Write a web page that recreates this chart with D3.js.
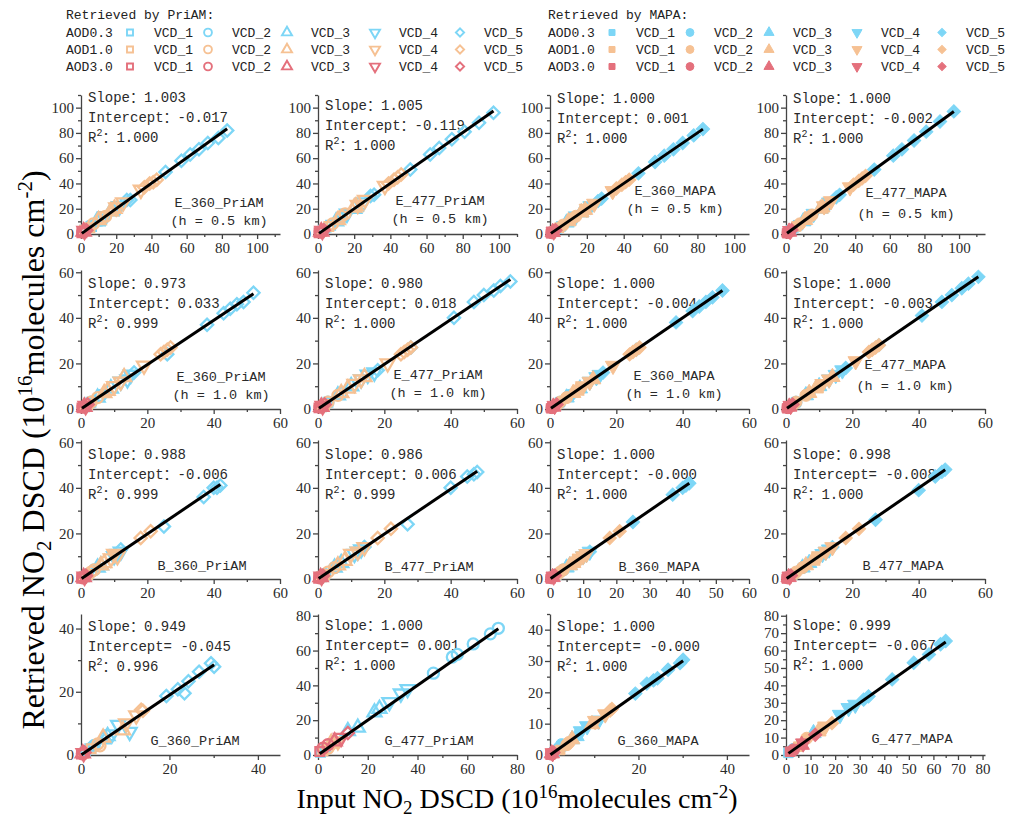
<!DOCTYPE html>
<html>
<head>
<meta charset="utf-8">
<script src="https://cdn.jsdelivr.net/npm/d3@7"></script>
<style>
  body { margin: 0; background: #fff; }
</style>
</head>
<body>
<div id="wrapper"></div>
<script>
// ---- data ----
const aodLabels = ["AOD0.3", "AOD1.0", "AOD3.0"];
const vcdLabels = ["VCD_1", "VCD_2", "VCD_3", "VCD_4", "VCD_5"];
const aodColors = ["#7dd6f6", "#f6c193", "#e4707c"];
const methodTitles = ["Retrieved by PriAM:", "Retrieved by MAPA:"];

// input DSCD: [aod, vcd, input]
const inE360h05 = [
  [0,0,2],[0,0,6],[0,1,5],[0,1,11],[0,2,9],[0,2,17],[0,3,14],[0,3,22],[0,4,26],[0,4,28],[0,4,48],[0,4,57],[0,4,62],[0,4,67],[0,4,72],[0,4,78],[0,4,83],
  [1,0,2],[1,0,5],[1,1,7],[1,1,12],[1,1,14],[1,2,10],[1,2,17],[1,2,19],[1,3,20],[1,3,24],[1,3,34],[1,4,36],[1,4,39],[1,4,41],[1,4,43],
  [2,0,0.5],[2,1,1],[2,2,1.5],[2,3,2],[2,4,3]
];
const priE360h05 = [3,6,6,11,10,18,14,22,27,27,49,58,63,67,72,76,82, 3,5,8,13,14,11,18,20,21,25,35,37,40,41,43, 1,1.5,2,2.5,3];
const mapaE360h05 = [2,6,5,11,9,17,14,22,26,28,48,57,62,67,72,78,83, 2,5,7,12,14,10,17,19,20,24,34,36,39,41,43, 0.5,1,1.5,2,3];

const inE477h05 = [
  [0,0,3],[0,0,7],[0,1,6],[0,1,13],[0,2,10],[0,2,20],[0,3,16],[0,3,25],[0,4,29],[0,4,31],[0,4,51],[0,4,62],[0,4,67],[0,4,74],[0,4,81],[0,4,89],[0,4,97],
  [1,0,2],[1,0,6],[1,1,8],[1,1,13],[1,1,15],[1,2,11],[1,2,20],[1,2,21],[1,3,22],[1,3,26],[1,3,37],[1,4,39],[1,4,42],[1,4,44],[1,4,46],
  [2,0,0.6],[2,1,1.2],[2,2,1.8],[2,3,2.4],[2,4,3.2]
];
const priE477h05 = [3,7,6,13,10,20,16,25,30,31,51,63,68,75,81,88,96, 2,6,8,14,16,11,21,22,23,27,38,40,43,45,47, 1,1.5,2,2.5,3];
const mapaE477h05 = [3,7,6,13,10,20,16,25,29,31,51,62,67,74,81,89,97, 2,6,8,13,15,11,20,21,22,26,37,39,42,44,46, 0.6,1.2,1.8,2.4,3.2];

const inE360h10 = [
  [0,0,1],[0,0,3],[0,1,3],[0,1,6],[0,2,5],[0,2,9],[0,3,12],[0,3,14],[0,3,15],[0,4,16],[0,4,26],[0,4,38],[0,4,43],[0,4,45],[0,4,47],[0,4,49],[0,4,52],
  [1,0,1],[1,0,2],[1,1,3],[1,1,5],[1,2,7],[1,2,8],[1,2,13],[1,3,10],[1,3,12],[1,3,19],[1,4,24],[1,4,25],[1,4,26],[1,4,27],
  [2,0,0.3],[2,1,0.6],[2,2,1],[2,3,1.4],[2,4,2]
];
const priE360h10 = [1,3,3,6,5,9,12,13,15,16,24,37,42,44,46,47,51, 1,2,3,5,7,8,14,10,12,19,24,25,26,27, 0.5,0.8,1,1.3,2];
const mapaE360h10 = [1,3,3,6,5,9,12,14,15,16,26,38,43,45,47,49,52, 1,2,3,5,7,8,13,10,12,19,24,25,26,27, 0.3,0.6,1,1.4,2];

const inE477h10 = [
  [0,0,1],[0,0,3],[0,1,3],[0,1,7],[0,2,6],[0,2,10],[0,3,13],[0,3,15],[0,3,17],[0,4,18],[0,4,28],[0,4,41],[0,4,47],[0,4,50],[0,4,53],[0,4,55],[0,4,58],
  [1,0,1],[1,0,2],[1,1,3],[1,1,6],[1,2,7],[1,2,9],[1,2,14],[1,3,11],[1,3,13],[1,3,21],[1,4,25],[1,4,26],[1,4,27],[1,4,28],
  [2,0,0.3],[2,1,0.6],[2,2,1],[2,3,1.4],[2,4,2]
];
const priE477h10 = [1,3,3,7,6,10,13,15,16,17,27,40,47,50,52,54,56, 1,2,3,6,7,9,14,11,13,20,24,25,26,27, 0.5,0.8,1,1.3,2];
const mapaE477h10 = [1,3,3,7,6,10,13,15,17,18,28,41,47,50,53,55,58, 1,2,3,6,7,9,14,11,13,21,25,26,27,28, 0.3,0.6,1,1.4,2];

const inB360 = [
  [0,0,1],[0,0,2],[0,1,2],[0,1,4],[0,2,5],[0,2,6],[0,3,10],[0,3,11],[0,3,12],[0,4,12],[0,4,25],[0,4,37],[0,4,40],[0,4,41],[0,4,42],
  [1,0,1],[1,0,2],[1,1,3],[1,1,4],[1,2,6],[1,2,7],[1,3,9],[1,3,10],[1,3,11],[1,4,18],[1,4,21],
  [2,0,0.2],[2,1,0.5],[2,2,0.8],[2,3,1.1],[2,4,1.5]
];
const priB360 = [1,2,2,4,5,6,10,11,12,13,23,36,40,40,41, 1,2,3,4,6,7,9,11,10,18,21, 0.3,0.5,0.8,1,1.4];
const mapaB360 = [1,2,2,4,5,6,10,11,12,12,25,37,40,41,42, 1,2,3,4,6,7,9,10,11,18,21, 0.2,0.5,0.8,1.1,1.5];

const inB477 = [
  [0,0,1],[0,0,2],[0,1,2],[0,1,5],[0,2,5],[0,2,7],[0,3,11],[0,3,12],[0,3,13],[0,4,14],[0,4,27],[0,4,40],[0,4,45],[0,4,47],[0,4,48],
  [1,0,1],[1,0,2],[1,1,3],[1,1,5],[1,2,6],[1,2,8],[1,3,10],[1,3,12],[1,3,14],[1,4,18],[1,4,22],
  [2,0,0.2],[2,1,0.5],[2,2,0.8],[2,3,1.1],[2,4,1.5]
];
const priB477 = [1,2,2,5,5,7,11,12,13,14,24,40,45,46,47, 1,2,3,5,6,8,11,12,14,18,22, 0.3,0.5,0.8,1,1.4];
const mapaB477 = [1,2,2,5,5,7,11,12,13,14,26,39,45,47,48, 1,2,3,5,6,8,10,12,14,18,22, 0.2,0.5,0.8,1.1,1.5];

const inG360 = [
  [0,0,1],[0,0,2],[0,1,2.6],[0,1,3],[0,2,5],[0,2,6],[0,3,7],[0,3,8.4],[0,3,11],[0,4,19.3],[0,4,21.9],[0,4,23.4],[0,4,24.3],[0,4,26.7],[0,4,29.4],[0,4,30.1],
  [1,0,0.5],[1,0,2.3],[1,1,3.8],[1,1,4.3],[1,2,5],[1,2,9.5],[1,3,10.2],[1,3,12.5],[1,4,13.6],[1,4,14],
  [2,0,0.1],[2,1,0.3],[2,2,0.4],[2,3,0.6],[2,4,0.8]
];
const priG360 = [1,2,2.5,3,5,6,6.5,9.5,7.3,18.7,20.8,19.5,23.3,26.3,29,27.9, 0.5,2,3.5,2.9,5.5,7.8,10,12.5,14.3,14, 0.3,0.4,0.5,0.6,0.8];
const mapaG360 = [1,2,3.3,3,5,6,7.6,9.2,11,19.6,22.8,23.8,24.5,27.2,29.3,30.4, 0.5,1.6,3.3,4,5,9.8,10.9,13,14.2,14.7, 0.1,0.3,0.5,0.6,0.8];

const inG477Pri = [
  [0,0,1],[0,0,3],[0,2,12],[0,2,16],[0,2,22.7],[0,2,24.7],[0,3,28.7],[0,3,33.3],[0,3,36],[0,1,46.4],[0,1,54],[0,1,56],[0,1,62.4],[0,1,69.3],[0,1,72.5],
  [1,0,2],[1,1,4],[1,2,5.3],[1,3,8],[1,4,6],
  [2,0,0.7],[2,1,2],[2,1,4],[2,2,6.7],[2,3,9.3],[2,4,12]
];
const priG477 = [1.5,3.5,13.7,15.7,24.5,26.5,30.4,35.3,37.8,47,56.3,57.8,63.8,69.6,72.8, 2.5,3.9,6.9,7.8,6.5, 2,3.9,5.9,7.8,9.8,12.7];

const inG477Mapa = [
  [0,0,1],[0,1,3],[0,2,11.2],[0,3,22],[0,3,25.5],[0,3,28.2],[0,4,31.6],[0,4,33.6],[0,4,43.2],[0,4,52],[0,4,58.2],[0,4,62.9],[0,4,65],
  [1,0,5],[1,1,8.4],[1,2,13.2],[1,3,16],[1,4,18.7],
  [2,0,1.6],[2,1,3],[2,2,6.4],[2,3,7],[2,4,11.9]
];
const mapaG477 = [1.2,3.2,12.5,23.1,27,28.9,31.8,33.7,43.4,53,57.8,63.6,65.5, 4.8,9.6,13.5,16.4,18.3, 1.9,2.9,5.8,6.7,11.6];

// panel texts and fits (row by row)
const panelNames = ["E_360_PriAM","E_477_PriAM","E_360_MAPA","E_477_MAPA",
                    "E_360_PriAM","E_477_PriAM","E_360_MAPA","E_477_MAPA",
                    "B_360_PriAM","B_477_PriAM","B_360_MAPA","B_477_MAPA",
                    "G_360_PriAM","G_477_PriAM","G_360_MAPA","G_477_MAPA"];
const panelHeights = ["(h = 0.5 km)","(h = 0.5 km)","(h = 0.5 km)","(h = 0.5 km)",
                      "(h = 1.0 km)","(h = 1.0 km)","(h = 1.0 km)","(h = 1.0 km)",
                      "","","","","","","",""];
const slopes = ["1.003","1.005","1.000","1.000","0.973","0.980","1.000","1.000",
                "0.988","0.986","1.000","0.998","0.949","1.000","1.000","0.999"];
const intercepts = ["-0.017","-0.119","0.001","-0.002","0.033","0.018","-0.004","-0.003",
                    "-0.006","0.006","-0.000","-0.008","-0.045","0.001","-0.000","-0.067"];
const r2s = ["1.000","1.000","1.000","1.000","0.999","1.000","1.000","1.000",
             "0.999","0.999","1.000","1.000","0.996","1.000","1.000","1.000"];
const interceptSep = ["：","：","：","：","：","：","：","：","：","：","：","= ","= ","= ","= ","= "];
const panelInputs = [inE360h05, inE477h05, inE360h05, inE477h05,
                     inE360h10, inE477h10, inE360h10, inE477h10,
                     inB360, inB477, inB360, inB477,
                     inG360, inG477Pri, inG360, inG477Mapa];
const panelOutputs = [priE360h05, priE477h05, mapaE360h05, mapaE477h05,
                      priE360h10, priE477h10, mapaE360h10, mapaE477h10,
                      priB360, priB477, mapaB360, mapaB477,
                      priG360, priG477, mapaG360, mapaG477];
const xMax = [113,110,108,115, 60,60,60,60, 60,60,60,60, 45,80,45,81];
const yMax = [110,110,110,110, 61,61,61,61, 61,61,61,61, 44.6,81,45,81];
const xStep = [20,20,20,20, 20,20,20,20, 20,20,10,20, 20,20,20,10];
const yStep = [20,20,20,20, 20,20,20,20, 20,20,20,20, 20,20,10,10];

// ---- layout ----
const width = 1009, height = 820;
const colLeft = [81, 318, 550, 786];
const rowTop = [95, 270, 440, 614];
const rowBottom = [234, 409, 579, 755];
const plotW = 199;
const statsDy = [[7,15,8,8],[18,18,18,18],[19,19,19,19],[17,16,17,16]];
const labelPos = [[138,-27],[122,-29],[125,-39],[120,-37],
                  [140,-28],[120,-30],[124,-29],[119,-40],
                  [121,-9],[111,-8],[109,-8],[117,-9],
                  [114,-10],[111,-10],[108,-10],[126,-12]];

const monoFont = "'Liberation Mono', 'Noto Sans CJK SC', monospace";
const serifFont = "'Liberation Serif', 'Times New Roman', serif";
const axisColor = "#444";
const textColor = "#2a2a2a";

const shapes = [d3.symbolSquare, d3.symbolCircle, d3.symbolTriangle, d3.symbolTriangle, d3.symbolSquare];
const shapeRot = [0, 0, 0, 180, 45];
const plotSizes = [75, 95, 85, 85, 75];
const legendSizes = [36, 48, 44, 44, 34];

const svg = d3.select("#wrapper")
  .append("svg")
    .attr("width", width)
    .attr("height", height)
    .style("background", "#fff");

function drawMarker(g, vcd, color, filled, size, sw) {
  return g.append("path")
    .attr("d", d3.symbol().type(shapes[vcd]).size(size)())
    .attr("fill", filled ? color : "none")
    .attr("stroke", color)
    .attr("stroke-width", filled ? 1 : sw);
}

// ---- legends ----
const legendX = [66, 548];
const legendMarkX = [64, 142, 221, 309, 394];
const legendRowY = [37, 54, 71];

methodTitles.forEach((title, m) => {
  const lg = svg.append("g")
    .attr("transform", `translate(${legendX[m]},0)`)
    .style("font-family", monoFont)
    .style("font-size", "13px")
    .attr("fill", "#222");
  lg.append("text").attr("x", 0).attr("y", 19).text(title);
  aodLabels.forEach((aod, a) => {
    lg.append("text").attr("x", 0).attr("y", legendRowY[a]).text(aod);
    vcdLabels.forEach((vcd, v) => {
      const mk = lg.append("g")
        .attr("transform", `translate(${legendMarkX[v]},${legendRowY[a] - 4.5}) rotate(${shapeRot[v]})`);
      drawMarker(mk, v, aodColors[a], m === 1, legendSizes[v], 1.9);
      lg.append("text").attr("x", legendMarkX[v] + 24).attr("y", legendRowY[a]).text(vcd);
    });
  });
});

// ---- panels ----
panelNames.forEach((name, i) => {
  const r = Math.floor(i / 4), c = i % 4;
  const x0 = colLeft[c], y0 = rowTop[r], y1 = rowBottom[r];
  const filled = name.includes("MAPA");

  const xScale = d3.scaleLinear().domain([0, xMax[i]]).range([0, plotW]);
  const yScale = d3.scaleLinear().domain([0, yMax[i]]).range([y1 - y0, 0]);

  const g = svg.append("g").attr("transform", `translate(${x0},${y0})`);

  // axes
  const xMajor = d3.range(0, xMax[i] + 0.01, xStep[i]);
  const xMinor = d3.range(xStep[i] / 2, xMax[i] + 0.01, xStep[i]);
  const yMajor = d3.range(0, yMax[i] + 0.01, yStep[i]);
  const yMinor = d3.range(yStep[i] / 2, yMax[i] + 0.01, yStep[i]);

  g.append("g")
    .attr("transform", `translate(0,${y1 - y0})`)
    .call(d3.axisBottom(xScale).tickValues(xMajor).tickSize(5).tickSizeOuter(0).tickPadding(3));
  g.append("g")
    .attr("transform", `translate(0,${y1 - y0})`)
    .call(d3.axisBottom(xScale).tickValues(xMinor).tickSize(3).tickSizeOuter(0).tickFormat(""))
    .call(a => a.select(".domain").remove());
  g.append("g")
    .call(d3.axisLeft(yScale).tickValues(yMajor).tickSize(5).tickSizeOuter(0).tickPadding(2));
  g.append("g")
    .call(d3.axisLeft(yScale).tickValues(yMinor).tickSize(3).tickSizeOuter(0).tickFormat(""))
    .call(a => a.select(".domain").remove());

  g.selectAll(".domain, .tick line").attr("stroke", axisColor).attr("stroke-width", 1.3);
  g.selectAll(".tick text")
    .attr("fill", textColor)
    .style("font-family", serifFont)
    .style("font-size", "15px");

  // stats text
  const st = g.append("g")
    .style("font-family", monoFont)
    .style("font-size", "14px")
    .attr("fill", textColor);
  const sy = statsDy[r][c];
  st.append("text").attr("x", 7).attr("y", sy).text("Slope：" + slopes[i]);
  st.append("text").attr("x", 7).attr("y", sy + 20).text("Intercept" + interceptSep[i] + intercepts[i]);
  const rt = st.append("text").attr("x", 7).attr("y", sy + 40);
  rt.append("tspan").text("R");
  rt.append("tspan").attr("dy", -6).style("font-size", "10px").text("2");
  rt.append("tspan").attr("dy", 6).text("：" + r2s[i]);

  // panel label
  const lb = g.append("g")
    .style("font-family", monoFont)
    .style("font-size", "13.5px")
    .attr("fill", textColor)
    .attr("text-anchor", "middle");
  const lp = labelPos[i];
  lb.append("text").attr("x", lp[0]).attr("y", y1 - y0 + lp[1]).text(name);
  if (panelHeights[i]) {
    lb.append("text").attr("x", lp[0]).attr("y", y1 - y0 + lp[1] + (c === 3 ? 21 : 18)).text(panelHeights[i]);
  }

  // points
  const pts = panelInputs[i].map((d, k) => ({aod: d[0], vcd: d[1], x: d[2], y: panelOutputs[i][k]}));
  const pg = g.append("g");
  pts.forEach(p => {
    const mk = pg.append("g")
      .attr("transform", `translate(${xScale(p.x)},${yScale(p.y)}) rotate(${shapeRot[p.vcd]})`);
    drawMarker(mk, p.vcd, aodColors[p.aod], filled, filled ? plotSizes[p.vcd] * 1.2 : plotSizes[p.vcd], 2.3);
  });

  // fit line
  const slope = +slopes[i], icpt = +intercepts[i];
  const ext = d3.extent(pts, d => d.x);
  g.append("line")
    .attr("x1", xScale(ext[0])).attr("y1", yScale(slope * ext[0] + icpt))
    .attr("x2", xScale(ext[1])).attr("y2", yScale(slope * ext[1] + icpt))
    .attr("stroke", "#000")
    .attr("stroke-width", 3);
});

// ---- axis titles ----
const yTitle = svg.append("text")
  .attr("transform", "translate(44,450) rotate(-90)")
  .attr("text-anchor", "middle")
  .style("font-family", serifFont)
  .style("font-size", "32px")
  .attr("fill", "#000");
yTitle.append("tspan").text("Retrieved NO");
yTitle.append("tspan").attr("dy", 7).style("font-size", "21px").text("2");
yTitle.append("tspan").attr("dy", -7).text(" DSCD (10");
yTitle.append("tspan").attr("dy", -12).style("font-size", "21px").text("16");
yTitle.append("tspan").attr("dy", 12).text("molecules cm");
yTitle.append("tspan").attr("dy", -12).style("font-size", "21px").text("-2");
yTitle.append("tspan").attr("dy", 12).text(")");

const xTitle = svg.append("text")
  .attr("x", 517)
  .attr("y", 808)
  .attr("text-anchor", "middle")
  .style("font-family", serifFont)
  .style("font-size", "28px")
  .attr("fill", "#000");
xTitle.append("tspan").text("Input NO");
xTitle.append("tspan").attr("dy", 6).style("font-size", "19px").text("2");
xTitle.append("tspan").attr("dy", -6).text(" DSCD (10");
xTitle.append("tspan").attr("dy", -10).style("font-size", "19px").text("16");
xTitle.append("tspan").attr("dy", 10).text("molecules cm");
xTitle.append("tspan").attr("dy", -10).style("font-size", "19px").text("-2");
xTitle.append("tspan").attr("dy", 10).text(")");
</script>
</body>
</html>
